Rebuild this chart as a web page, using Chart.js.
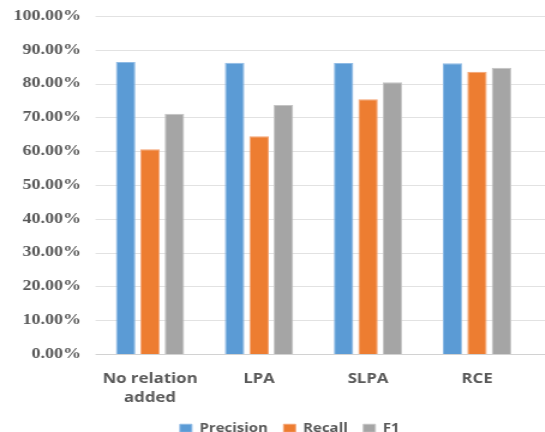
<!DOCTYPE html>
<html>
<head>
<meta charset="utf-8">
<script src="https://cdn.jsdelivr.net/npm/chart.js@4/dist/chart.umd.min.js"></script>
<style>
  html, body { margin: 0; padding: 0; background: #ffffff; overflow: hidden; }
  /* the chart is laid out narrow and widened horizontally */
  #wrap {
    position: absolute; left: 0; top: 0;
    width: 454.17px; height: 432px;
    transform: scaleX(1.2); transform-origin: 0 0;
  }
</style>
</head>
<body>
<div id="wrap"><canvas id="chart"></canvas></div>
<script>
const categories = [['No relation', 'added'], 'LPA', 'SLPA', 'RCE'];
const precision = [86.4, 86.2, 86.1, 86.0];
const recall    = [60.6, 64.4, 75.4, 83.5];
const f1        = [71.1, 73.7, 80.4, 84.7];

const textGray = '#595959';

// horizontal value lines, running from the plot's left edge to the canvas edge
const gridLines = {
  id: 'gridLines',
  beforeDatasetsDraw(chart) {
    const y = chart.scales.y;
    const ctx = chart.ctx;
    ctx.save();
    ctx.lineWidth = 1.2;
    y.ticks.forEach(t => {
      const py = Math.round(y.getPixelForValue(t.value)) + 0.5;
      ctx.strokeStyle = t.value === 0 ? '#d2d2d2' : '#e2e2e2';
      ctx.beginPath();
      ctx.moveTo(chart.chartArea.left, py);
      ctx.lineTo(chart.width, py);
      ctx.stroke();
    });
    ctx.restore();
  }
};

// centre the legend under the plot area rather than the whole canvas
const legendShift = {
  id: 'legendShift',
  afterLayout(chart) {
    const lg = chart.legend;
    if (!lg) return;
    const dx = 20;
    lg.left += dx;
    lg.right += dx;
  }
};

new Chart(document.getElementById('chart'), {
  type: 'bar',
  data: {
    labels: categories,
    datasets: [
      { label: 'Precision', data: precision, backgroundColor: '#5B9BD5', borderColor: '#8fbbe5' },
      { label: 'Recall',    data: recall,    backgroundColor: '#ED7D31', borderColor: '#f4a474' },
      { label: 'F1',        data: f1,        backgroundColor: '#A5A5A5', borderColor: '#c4c4c4' }
    ]
  },
  options: {
    responsive: true,
    maintainAspectRatio: false,
    animation: false,
    layout: { padding: { top: 16, right: 11.3, left: 0, bottom: 0 } },
    datasets: {
      bar: { categoryPercentage: 0.672, barPercentage: 0.8, borderWidth: 1 }
    },
    scales: {
      y: {
        min: 0, max: 100,
        afterFit(scale) {
          scale.width = 79.6;
          scale.paddingTop = 0;
          scale.paddingBottom = 0;
        },
        grid: { display: false, drawTicks: false },
        border: { display: false },
        ticks: {
          stepSize: 10,
          padding: 12,
          color: textGray,
          font: { family: 'Liberation Serif', weight: 'bold', size: 15 },
          callback: v => v.toFixed(2) + '%'
        }
      },
      x: {
        afterFit(scale) { scale.height = 55; },
        grid: { display: false },
        border: { display: false },
        ticks: {
          padding: 7,
          color: textGray,
          maxRotation: 0,
          font: { family: 'Open Sans', weight: 'bold', size: 14, lineHeight: 1.4 }
        }
      }
    },
    plugins: {
      tooltip: { enabled: false },
      legend: {
        position: 'bottom',
        maxHeight: 23,
        labels: {
          boxWidth: 10, boxHeight: 8,
          padding: 13,
          color: textGray,
          font: { family: 'Open Sans', weight: 'bold', size: 12.5 }
        }
      }
    }
  },
  plugins: [gridLines, legendShift]
});
</script>
</body>
</html>
